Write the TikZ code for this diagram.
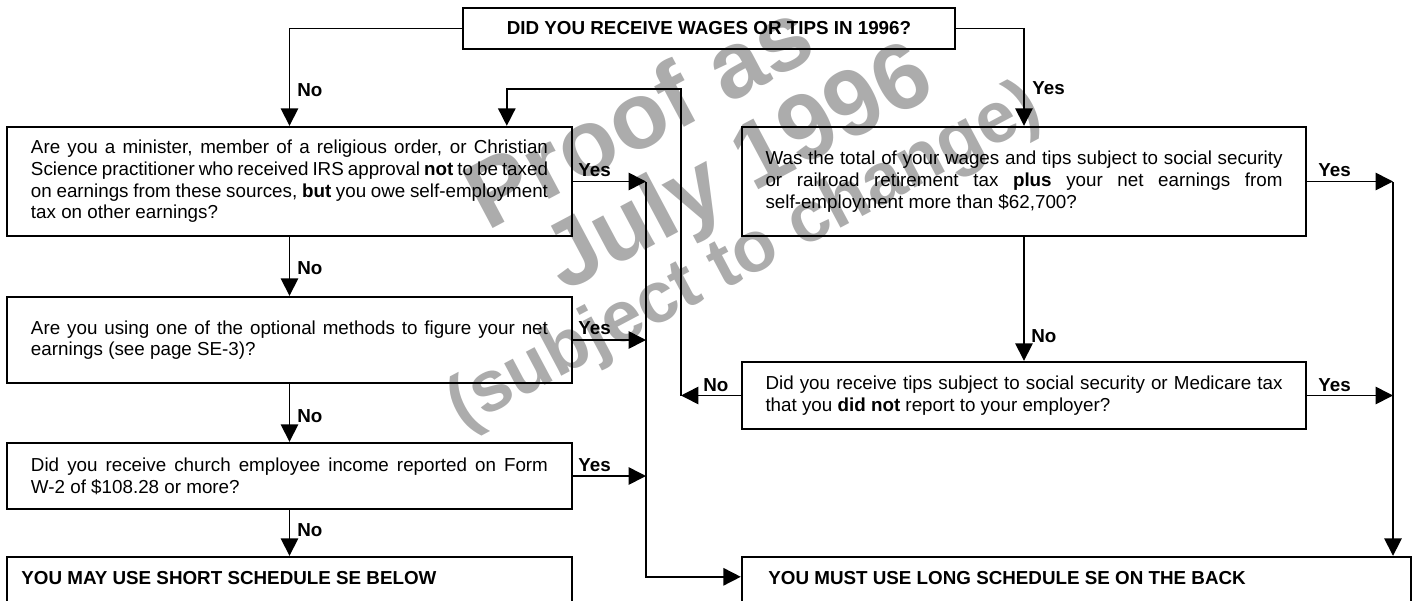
\documentclass[tikz,border=0pt]{standalone}
\usepackage{fontspec}
\setmainfont{Liberation Sans}
\usetikzlibrary{arrows.meta,calc}
\definecolor{wm}{RGB}{172,172,172}
\hyphenpenalty=10000
\tolerance=10000
\hbadness=10000
\tikzset{
  box/.style={draw, line width=1.2pt, inner sep=0pt, font=\fontsize{9.4}{10.85}\selectfont},
  qbox/.style={box, text width=258.5pt, align=justify},
  conn/.style={line width=0.8pt},
  arr/.style={conn, -{Triangle[length=8.7pt,width=8.7pt]}},
  lab/.style={anchor=west, inner sep=0pt, font=\fontsize{9.4}{10.85}\selectfont\bfseries},
  wmark/.style={text=wm, rotate=28, inner sep=0pt}
}
\begin{document}
\begin{tikzpicture}[x=0.5pt,y=-0.5pt]
\useasboundingbox (0,0) rectangle (1413,600);
% watermark
\node[wmark, font=\fontsize{47}{47}\selectfont\bfseries] (wm1) at (638,114) {Proof as};
\node[wmark, font=\fontsize{47}{47}\selectfont\bfseries] (wm2) at (740,172) {July 1996};
\node[wmark, font=\fontsize{36}{36}\selectfont\bfseries] (wm3) at (745,258) {(subject to change)};

% boxes
\node[box, minimum width=246pt, minimum height=20.5pt, font=\fontsize{9.4}{10.85}\selectfont\bfseries] (top) at (709,28.5) {DID YOU RECEIVE WAGES OR TIPS IN 1996?};

\node[qbox, minimum width=282.5pt, minimum height=54.5pt] (A) at (289.5,181.5)
 {Are you a minister, member of a religious order, or Christian\linebreak
  Science practitioner who received IRS approval \textbf{not} to be taxed\linebreak
  on earnings from these sources, \textbf{but} you owe self-employment\linebreak
  tax on other earnings?};

\node[qbox, minimum width=282.5pt, minimum height=43pt] (B) at (289.5,340)
 {Are you using one of the optional methods to figure your net\linebreak
  earnings (see page SE-3)?};

\node[qbox, minimum width=282.5pt, minimum height=33pt] (C) at (289.5,476)
 {Did you receive church employee income reported on Form\linebreak
  W-2 of \$108.28 or more?};

\node[box, minimum width=282.5pt, minimum height=41.5pt] (D) at (289.5,598.5) {};
\node[lab] (Dt) at (21,578) {YOU MAY USE SHORT SCHEDULE SE BELOW};

\node[qbox, minimum width=282pt, minimum height=54.5pt] (F) at (1024,181.5)
 {Was the total of your wages and tips subject to social security\linebreak
  or railroad retirement tax \textbf{plus} your net earnings from\linebreak
  self-employment more than \$62,700?};

\node[qbox, minimum width=282pt, minimum height=33.5pt] (G) at (1024,395.5)
 {Did you receive tips subject to social security or Medicare tax\linebreak
  that you \textbf{did not} report to your employer?};

\node[box, minimum width=334.5pt, minimum height=41.5pt] (E) at (1076.5,598.5) {};
\node[lab] (Et) at (768,578) {YOU MUST USE LONG SCHEDULE SE ON THE BACK};

% junction coordinates
\coordinate (bus) at (646,182);
\coordinate (bus2) at (1393,182);
\coordinate (loop) at (681,89);

% connectors
\draw[arr] (top.west) -| (A.north);
\draw[arr] (top.east) -| (F.north);
\draw[arr] (A.south) -- (B.north);
\draw[arr] (B.south) -- (C.north);
\draw[arr] (C.south) -- (D.north);
\draw[arr] (A.east) -- (A.east -| bus);
\draw[arr] (B.east) -- (B.east -| bus);
\draw[arr] (C.east) -- (C.east -| bus);
\draw[arr] (bus) |- ([yshift=-10.5pt]E.north west);
\draw[arr] (F.east) -- (F.east -| bus2);
\draw[arr] (G.east) -- (G.east -| bus2);
\draw[arr] (bus2) -- (bus2 |- E.north);
\draw[arr] (F.south) -- (G.north);
\draw[arr] (G.west) -- (G.west -| loop);
\draw[arr] (G.west -| loop) -- (loop) -| ([xshift=250.5pt]A.north west);

% labels
\node[lab] (l1) at (297,90) {No};
\node[lab] (l2) at (1032,88) {Yes};
\node[lab] (l3) at (297,268) {No};
\node[lab] (l4) at (297,416) {No};
\node[lab] (l5) at (297,530) {No};
\node[lab] (l6) at (578,170) {Yes};
\node[lab] (l7) at (578,328) {Yes};
\node[lab] (l8) at (578,465) {Yes};
\node[lab] (l9) at (1318,170) {Yes};
\node[lab] (l10) at (1318,385) {Yes};
\node[lab] (l11) at (1031,336) {No};
\node[lab] (l12) at (703,385) {No};
\end{tikzpicture}
\end{document}
